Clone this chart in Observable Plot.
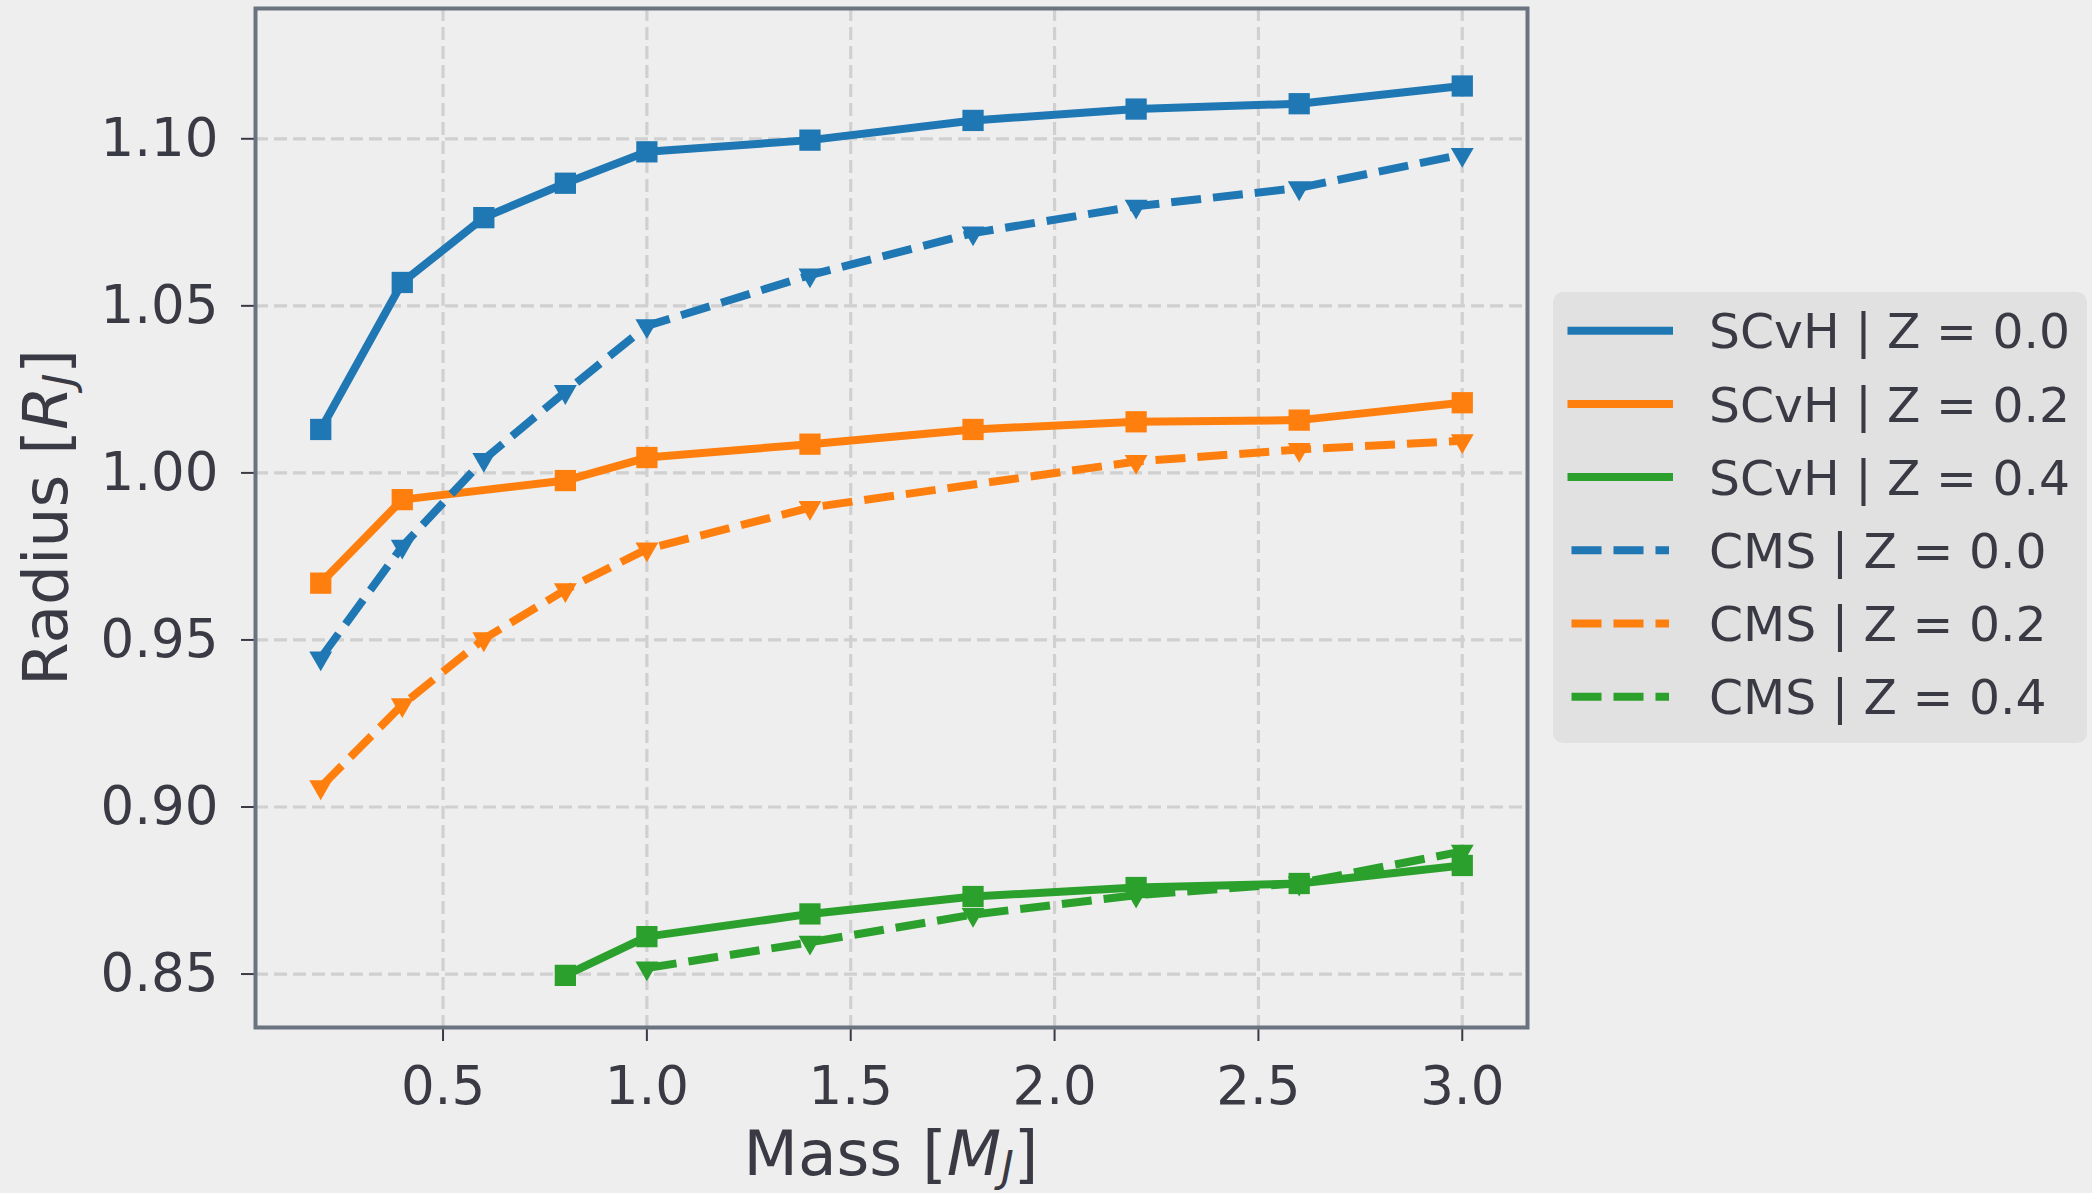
<!DOCTYPE html>
<html><head><meta charset="utf-8">
<script src="https://cdn.jsdelivr.net/npm/d3@7"></script>
<script src="https://cdn.jsdelivr.net/npm/@observablehq/plot@0.6"></script>
<style>
html,body{margin:0;padding:0;background:#eeeeee;}
#wrap{position:relative;width:2092px;height:1193px;background:#eeeeee;overflow:hidden;font-family:"DejaVu Sans",sans-serif;color:#3a3a44;}
#legend{position:absolute;left:1553px;top:292px;width:534px;height:451px;background:#e1e1e1;border-radius:10px;}
</style></head>
<body><div id="wrap"><div id="legend"></div></div>
<script>
// ---- data ----
const seriesNames = ["SCvH | Z = 0.0","SCvH | Z = 0.2","SCvH | Z = 0.4","CMS | Z = 0.0","CMS | Z = 0.2","CMS | Z = 0.4"];
const seriesColors = ["#1f77b4","#ff7f0e","#2ca02c","#1f77b4","#ff7f0e","#2ca02c"];
const seriesDashed = [false,false,false,true,true,true];

const scvhZ00Mass = [0.2,0.4,0.6,0.8,1.0,1.4,1.8,2.2,2.6,3.0];
const scvhZ00Radius = [1.013,1.057,1.0764,1.0867,1.0961,1.0996,1.1055,1.1089,1.1105,1.1158];
const scvhZ02Mass = [0.2,0.4,0.8,1.0,1.4,1.8,2.2,2.6,3.0];
const scvhZ02Radius = [0.967,0.992,0.9977,1.0046,1.0086,1.013,1.0153,1.0158,1.021];
const scvhZ04Mass = [0.8,1.0,1.4,1.8,2.2,2.6,3.0];
const scvhZ04Radius = [0.8496,0.8612,0.868,0.8732,0.8759,0.8771,0.8825];
const cmsZ00Mass = [0.2,0.4,0.6,0.8,1.0,1.4,1.8,2.2,2.6,3.0];
const cmsZ00Radius = [0.9446,0.978,1.004,1.0243,1.044,1.0592,1.0718,1.0798,1.0853,1.0953];
const cmsZ02Mass = [0.2,0.4,0.6,0.8,1.0,1.4,2.2,2.6,3.0];
const cmsZ02Radius = [0.906,0.9306,0.9503,0.965,0.9772,0.9896,1.0034,1.007,1.0096];
const cmsZ04Mass = [1.0,1.4,1.8,2.2,2.6,3.0];
const cmsZ04Radius = [0.8518,0.8595,0.8678,0.8736,0.8772,0.8867];

const xTicks = [0.5,1.0,1.5,2.0,2.5,3.0];
const yTicks = [0.85,0.90,0.95,1.00,1.05,1.10];

const masses = [scvhZ00Mass,scvhZ02Mass,scvhZ04Mass,cmsZ00Mass,cmsZ02Mass,cmsZ04Mass];
const radii = [scvhZ00Radius,scvhZ02Radius,scvhZ04Radius,cmsZ00Radius,cmsZ02Radius,cmsZ04Radius];

const tables = seriesNames.map((name, i) =>
  masses[i].map((m, j) => ({series: name, mass: m, radius: radii[i][j]})));

// ---- styling ----
const textColor = "#3a3a44";
const dash = "30,12";

const marks = [
  Plot.gridX(xTicks, {stroke: "#d0d0d0", strokeOpacity: 1, strokeWidth: 3.2, strokeDasharray: "13,6"}),
  Plot.gridY(yTicks, {stroke: "#d0d0d0", strokeOpacity: 1, strokeWidth: 3.2, strokeDasharray: "13,6"})
];
tables.forEach((rows, i) => {
  marks.push(Plot.line(rows, {
    x: "mass", y: "radius", stroke: seriesColors[i], strokeWidth: 8,
    strokeDasharray: seriesDashed[i] ? dash : null,
    strokeLinejoin: "round", strokeLinecap: seriesDashed[i] ? "butt" : "square"
  }));
  marks.push(Plot.dot(rows, seriesDashed[i]
    ? {x: "mass", y: "radius", symbol: "triangle", rotate: 180, r: 8.5, fill: seriesColors[i], stroke: "none"}
    : {x: "mass", y: "radius", symbol: "square", r: 12, fill: seriesColors[i], stroke: "none"}));
});
marks.push(
  Plot.axisX({ticks: xTicks, tickFormat: d => d.toFixed(1), tickSize: 14, tickPadding: 25, fontSize: 53, strokeWidth: 2, color: textColor, label: null}),
  Plot.axisY({ticks: yTicks, tickFormat: d => d.toFixed(2), tickSize: 14, tickPadding: 23, fontSize: 53, strokeWidth: 2, color: textColor, label: null}),
  Plot.frame({stroke: "#6b7380", strokeWidth: 4})
);

const chart = Plot.plot({
  width: 2092, height: 1193,
  marginLeft: 255, marginRight: 565, marginTop: 8, marginBottom: 166,
  x: {domain: [0.04, 3.16]},
  y: {domain: [0.834, 1.139]},
  style: {background: "#eeeeee", fontFamily: "DejaVu Sans", color: textColor},
  marks
});
document.getElementById("wrap").prepend(chart);

// axis labels with italic symbol + subscript
const svg = d3.select(chart);
const xr = chart.scale("x").range, yr = chart.scale("y").range;
const xl = svg.append("text")
  .attr("x", (xr[0] + xr[1]) / 2).attr("y", yr[0] + 148)
  .attr("text-anchor", "middle").attr("font-size", 63).attr("fill", textColor)
  .attr("font-family", "DejaVu Sans");
xl.append("tspan").text("Mass [");
xl.append("tspan").attr("font-style", "italic").text("M");
xl.append("tspan").attr("font-style", "italic").attr("font-size", 43).attr("dy", 6).text("J");
xl.append("tspan").attr("dy", -6).text("]");

const yl = svg.append("text")
  .attr("transform", `translate(${xr[0] - 188},${(yr[0] + yr[1]) / 2}) rotate(-90)`)
  .attr("text-anchor", "middle").attr("font-size", 63).attr("fill", textColor)
  .attr("font-family", "DejaVu Sans");
yl.append("tspan").text("Radius [");
yl.append("tspan").attr("font-style", "italic").text("R");
yl.append("tspan").attr("font-style", "italic").attr("font-size", 43).attr("dy", 6).text("J");
yl.append("tspan").attr("dy", -6).text("]");

// legend
const lg = d3.select("#legend").append("svg").attr("width", 534).attr("height", 451);
seriesNames.forEach((name, i) => {
  const cy = 38.7 + 73.2 * i;
  lg.append("line").attr("x1", 18.5).attr("x2", 116).attr("y1", cy).attr("y2", cy)
    .attr("stroke", seriesColors[i]).attr("stroke-width", 8)
    .attr("stroke-dasharray", seriesDashed[i] ? dash : null)
    .attr("stroke-linecap", seriesDashed[i] ? "butt" : "square");
  lg.append("text").attr("x", 156).attr("y", cy + 17.6)
    .attr("font-size", 48.8).attr("fill", textColor).attr("font-family", "DejaVu Sans")
    .text(name);
});
</script>
</body></html>
